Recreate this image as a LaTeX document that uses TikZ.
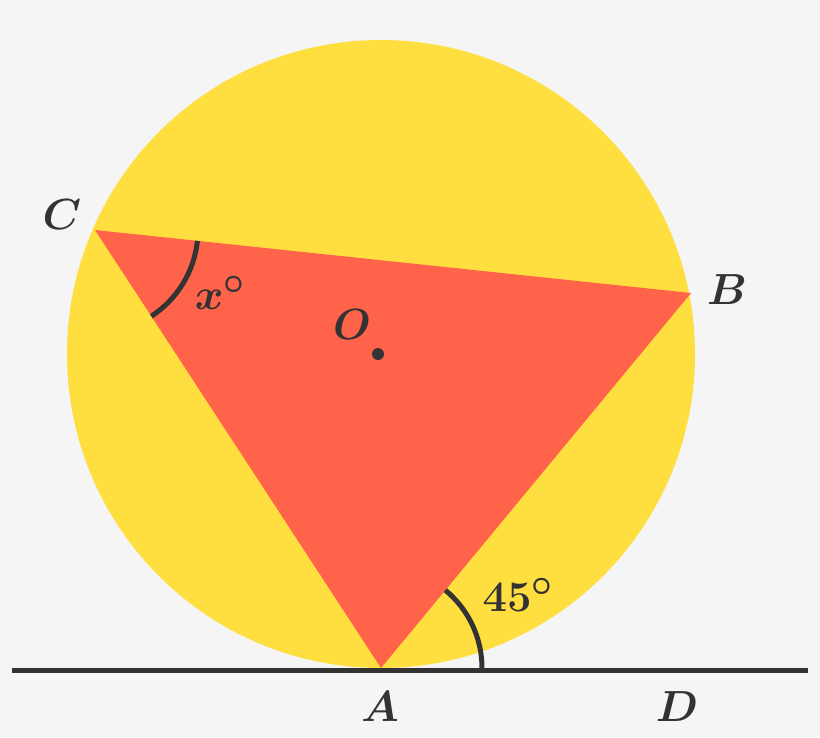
\documentclass[tikz,border=0pt]{standalone}
\usepackage{amsmath,bm}
\usetikzlibrary{angles}
\definecolor{bgc}{HTML}{F5F5F5}
\definecolor{circc}{HTML}{FFDF40}
\definecolor{tric}{HTML}{FF634A}
\definecolor{ink}{HTML}{333333}
\tikzset{
  lbl/.style={text=ink,font=\Huge,inner sep=0pt,scale=1.75},
  arcmark/.style={draw=ink,line width=5pt},
}
\begin{document}
\begin{tikzpicture}[x=1pt,y=-1pt]
\fill[bgc] (0,0) rectangle (820,737);
\useasboundingbox (0,0) rectangle (820,737);
\coordinate (O) at (381,354);
\coordinate (A) at (381,668);
\coordinate (B) at (691,293);
\coordinate (C) at (95,230);
\coordinate (L) at (12,670);
\coordinate (D) at (808,670);
\fill[circc] (O) circle[radius=314];
\fill[tric] (A) -- (B) -- (C) -- cycle;
\fill[ink] (378,354) circle[radius=6];
\pic[arcmark, angle radius=103pt] {angle = A--C--B};
\pic[arcmark, angle radius=101pt] {angle = D--A--B};
\draw[ink,line width=5pt] (L) -- (D);
\node[lbl] (lC) at (62,215) {$\boldsymbol{C}$};
\node[lbl] (lB) at (727,290) {$\boldsymbol{B}$};
\node[lbl] (lO) at (352,325) {$\boldsymbol{O}$};
\node[lbl] (lx) at (220,293) {$\boldsymbol{x}^{\boldsymbol{\circ}}$};
\node[lbl] (l45) at (518,595) {$\mathbf{45}^{\boldsymbol{\circ}}$};
\node[lbl] (lA) at (380,707) {$\boldsymbol{A}$};
\node[lbl] (lD) at (677,707) {$\boldsymbol{D}$};
\end{tikzpicture}
\end{document}
